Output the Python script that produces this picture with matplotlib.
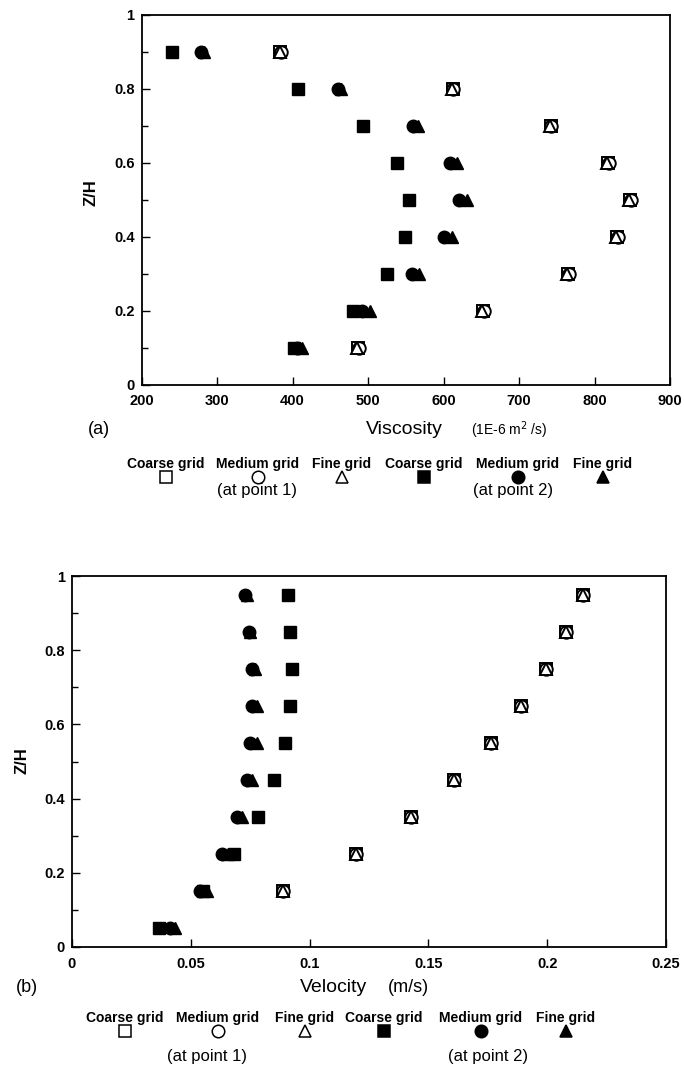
import numpy as np
import matplotlib
matplotlib.use("Agg")
import matplotlib.pyplot as plt
from matplotlib.lines import Line2D

plt.rcParams['font.family'] = ['Liberation Sans', 'DejaVu Sans']

W, H = 684, 1071

# (a) viscosity profiles, 1E-6 m2/s
zh_a = [0.1, 0.2, 0.3, 0.4, 0.5, 0.6, 0.7, 0.8, 0.9]
coarse1_a = [487, 652, 765, 830, 847, 818, 742, 612, 384]
medium1_a = [488, 653, 766, 831, 848, 819, 743, 613, 385]
fine1_a = [486, 651, 764, 829, 846, 817, 741, 611, 383]
coarse2_a = [402, 480, 525, 549, 554, 538, 493, 407, 240]
medium2_a = [406, 492, 558, 601, 620, 609, 560, 460, 279]
fine2_a = [412, 502, 568, 611, 631, 618, 566, 464, 283]

# (b) velocity profiles, m/s
zh_b = [0.05, 0.15, 0.25, 0.35, 0.45, 0.55, 0.65, 0.75, 0.85, 0.95]
zh1_b = [0.15, 0.25, 0.35, 0.45, 0.55, 0.65, 0.75, 0.85, 0.95]
coarse1_b = [0.0888, 0.1195, 0.1427, 0.1608, 0.1764, 0.1890, 0.1995, 0.2079, 0.2151]
medium1_b = [0.0889, 0.1196, 0.1428, 0.1609, 0.1765, 0.1891, 0.1996, 0.2080, 0.2152]
fine1_b = [0.0887, 0.1194, 0.1426, 0.1607, 0.1763, 0.1889, 0.1994, 0.2078, 0.2150]
coarse2_b = [0.0366, 0.0550, 0.0682, 0.0783, 0.0850, 0.0896, 0.0918, 0.0926, 0.0918, 0.0909]
medium2_b = [0.0412, 0.0539, 0.0631, 0.0694, 0.0736, 0.0749, 0.0757, 0.0757, 0.0745, 0.0728]
fine2_b = [0.0434, 0.0568, 0.0657, 0.0715, 0.0757, 0.0778, 0.0778, 0.0770, 0.0750, 0.0735]

fig = plt.figure(figsize=(W / 100, H / 100), dpi=100)


def px(x, y):
    return x / W, 1 - y / H


def make_axes(l, t, r, b):
    x0, y1 = px(l, t)
    x1, y0 = px(r, b)
    return fig.add_axes([x0, y0, x1 - x0, y1 - y0])


MS = 9
open_kw = dict(ls='none', mfc='white', mec='black', mew=1.4, ms=MS)
fill_kw = dict(ls='none', mfc='black', mec='black', mew=1, ms=MS)


def draw(ax, z1, c1, m1, f1, z2, c2, m2, f2):
    ax.plot(c1, z1, marker='s', **open_kw)
    ax.plot(m1, z1, marker='o', **open_kw)
    ax.plot(f1, z1, marker='^', **open_kw)
    ax.plot(c2, z2, marker='s', **fill_kw)
    ax.plot(m2, z2, marker='o', **fill_kw)
    ax.plot(f2, z2, marker='^', **fill_kw)
    ax.set_ylim(0, 1)
    ax.set_yticks(np.arange(0, 1.01, 0.2))
    ax.set_yticks(np.arange(0.1, 1.0, 0.2), minor=True)
    ax.set_yticklabels(['0', '0.2', '0.4', '0.6', '0.8', '1'])
    ax.tick_params(direction='in', length=6, width=1, labelsize=10.5, pad=5)
    ax.tick_params(axis='x', pad=7)
    ax.tick_params(which='minor', direction='in', length=4, width=1)
    for s in ax.spines.values():
        s.set_linewidth(1.3)


def bold_ticks(ax):
    for lab in ax.get_xticklabels() + ax.get_yticklabels():
        lab.set_fontweight('bold')


def legend_row(ytext, ymark, yat, xs, at_x):
    labels = ['Coarse grid', 'Medium grid', 'Fine grid'] * 2
    markers = ['s', 'o', '^'] * 2
    for i, (lab, mk, x) in enumerate(zip(labels, markers, xs)):
        fig.text(*px(x, ytext), lab, ha='center', va='center', fontsize=10,
                 fontweight='bold')
        fc = 'white' if i < 3 else 'black'
        fig.add_artist(Line2D([px(x, ymark)[0]], [px(x, ymark)[1]], marker=mk,
                              ls='none', mfc=fc, mec='black', mew=1.1, ms=9,
                              transform=fig.transFigure))
    fig.text(*px(at_x[0], yat), '(at point 1)', ha='center', va='center', fontsize=12)
    fig.text(*px(at_x[1], yat), '(at point 2)', ha='center', va='center', fontsize=12)


# ---- panel (a)
ax1 = make_axes(141.5, 15, 670, 384.5)
draw(ax1, zh_a, coarse1_a, medium1_a, fine1_a, zh_a, coarse2_a, medium2_a, fine2_a)
ax1.set_xlim(200, 900)
ax1.set_xticks(np.arange(200, 901, 100))
bold_ticks(ax1)
fig.text(*px(91, 193), 'Z/H', rotation=90, ha='center', va='center',
         fontsize=12, fontweight='bold')
fig.text(*px(99, 430), '(a)', ha='center', va='center', fontsize=13)
fig.text(*px(366, 430), 'Viscosity', ha='left', va='center', fontsize=14)
fig.text(*px(471, 430), '(1E-6 m$^2$ /s)', ha='left', va='center', fontsize=10)
legend_row(464, 477, 491, [166, 258, 342, 424, 518, 603], [257, 513])

# ---- panel (b)
ax2 = make_axes(72, 576, 666, 947)
draw(ax2, zh1_b, coarse1_b, medium1_b, fine1_b, zh_b, coarse2_b, medium2_b, fine2_b)
ax2.set_xlim(0, 0.25)
ax2.set_xticks([0, 0.05, 0.1, 0.15, 0.2, 0.25])
ax2.set_xticklabels(['0', '0.05', '0.1', '0.15', '0.2', '0.25'])
bold_ticks(ax2)
fig.text(*px(22, 761), 'Z/H', rotation=90, ha='center', va='center',
         fontsize=12, fontweight='bold')
fig.text(*px(27, 988), '(b)', ha='center', va='center', fontsize=13)
fig.text(*px(300, 988), 'Velocity', ha='left', va='center', fontsize=14)
fig.text(*px(388, 988), '(m/s)', ha='left', va='center', fontsize=13)
legend_row(1018, 1031, 1057, [125, 218, 305, 384, 481, 566], [207, 488])

fig.savefig('out.png', dpi=100)
